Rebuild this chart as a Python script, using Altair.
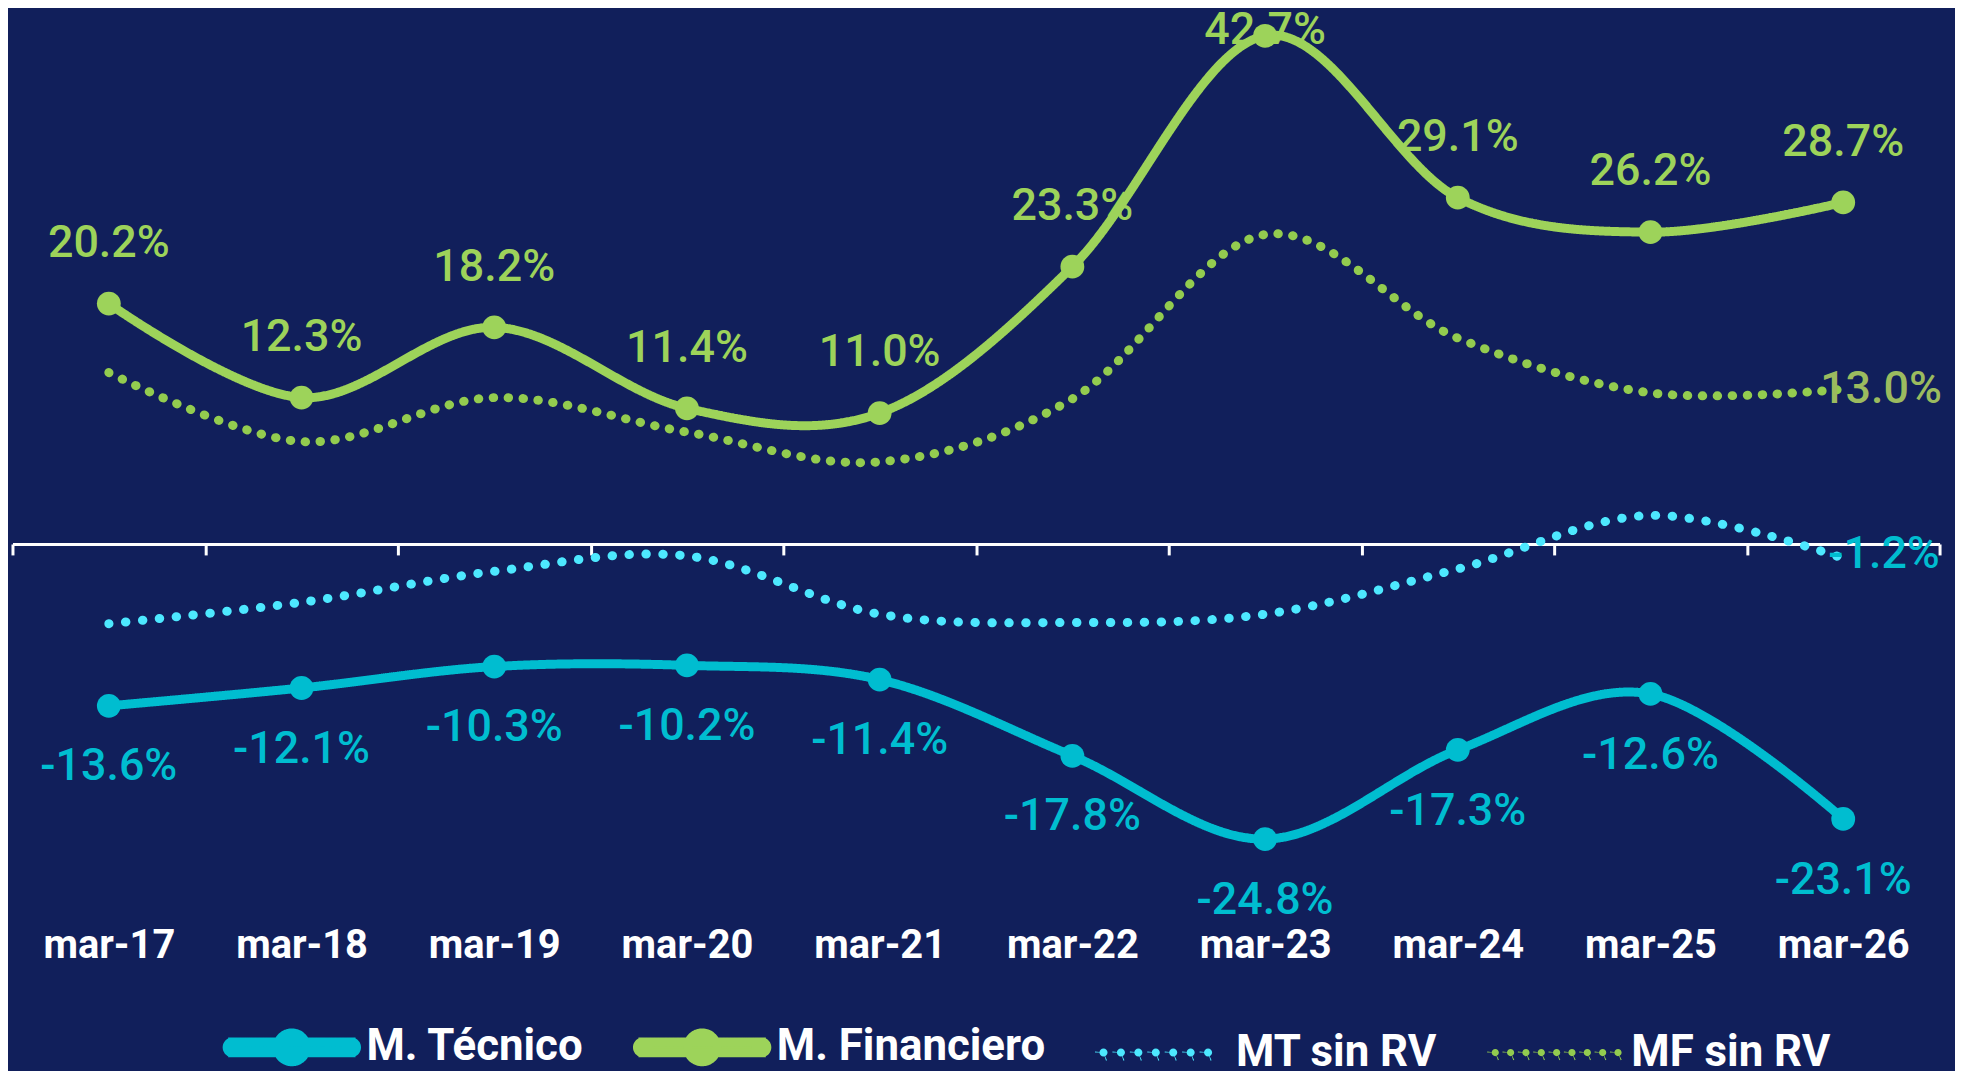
import altair as alt
import pandas as pd

cats = ["mar-17", "mar-18", "mar-19", "mar-20", "mar-21",
        "mar-22", "mar-23", "mar-24", "mar-25", "mar-26"]
m_tecnico = [-13.6, -12.1, -10.3, -10.2, -11.4, -17.8, -24.8, -17.3, -12.6, -23.1]
m_financiero = [20.2, 12.3, 18.2, 11.4, 11.0, 23.3, 42.7, 29.1, 26.2, 28.7]
mt_sin_rv = [-6.7, -4.9, -2.3, -1.0, -5.9, -6.6, -5.9, -2.1, 2.4, -1.2]
mf_sin_rv = [14.4, 8.6, 12.3, 9.4, 6.9, 12.2, 26.0, 17.3, 12.7, 13.0]

series_names = ["M. Técnico", "M. Financiero", "MT sin RV", "MF sin RV"]
series_values = [m_tecnico, m_financiero, mt_sin_rv, mf_sin_rv]

colors = ["#00BDD0", "#9DD35A", "#4DE8FF", "#93CC4F"]
BG = "#111F5B"

rows = []
for name, vals in zip(series_names, series_values):
    for c, v in zip(cats, vals):
        rows.append({"series": name, "cat": c, "value": v, "label": f"{v:.1f}%"})
df = pd.DataFrame(rows)


# legend symbol paths (unit = symbol radius)
def circ(cx, r):
    return (f"M{cx - r:.3f},0 A{r:.3f},{r:.3f} 0 1,1 {cx + r:.3f},0 "
            f"A{r:.3f},{r:.3f} 0 1,1 {cx - r:.3f},0 Z")


solid_path = ("M-4.1,-0.38 H4.1 V0.38 H-4.1 Z " + circ(-4.1, 0.38) + " "
              + circ(4.1, 0.38) + " " + circ(0, 1.0))
mt_dots = " ".join(circ(-4.0 + i * 1.207, 0.28) for i in range(7))
mf_dots = " ".join(circ(-4.25 + i * 1.0625, 0.25) for i in range(9))
shape_range = [solid_path, solid_path, mt_dots, mf_dots]

W = 1935
PXPCT = 11.95
YMIN, YMAX = -28, 44
H = (YMAX - YMIN) * PXPCT
zero_px = YMAX * PXPCT
axis_offset = -(H - zero_px)

x_enc = alt.X(
    "cat:N", sort=cats,
    scale=alt.Scale(type="band", paddingInner=0, paddingOuter=0),
    axis=alt.Axis(
        title=None, orient="bottom", offset=axis_offset,
        domainColor="white", domainWidth=3,
        tickColor="white", tickWidth=3, tickSize=11, tickBand="extent",
        labelPadding=372, labelFont="Roboto", labelFontSize=40,
        labelFontWeight="bold", labelColor="white", labelAngle=0,
        grid=False,
    ),
)
y_scale = alt.Scale(domain=[YMIN, YMAX], nice=False, zero=False)

base = alt.Chart(df)

lines = base.mark_line(interpolate="cardinal", strokeCap="round").encode(
    x=x_enc,
    y=alt.Y("value:Q", scale=y_scale, axis=None),
    stroke=alt.Stroke("series:N", scale=alt.Scale(domain=series_names, range=colors), legend=None),
    strokeDash=alt.StrokeDash("series:N", scale=alt.Scale(domain=series_names,
                              range=[[1, 0], [1, 0], [0.5, 16.5], [0.5, 14.5]]), legend=None),
    strokeWidth=alt.StrokeWidth("series:N", scale=alt.Scale(domain=series_names,
                                range=[9, 9, 7.5, 6.5]), legend=None),
    detail="series:N",
)

points = base.transform_filter(
    alt.FieldOneOfPredicate(field="series", oneOf=["M. Técnico", "M. Financiero"])
).mark_circle(size=573, opacity=1).encode(
    x=x_enc,
    y=alt.Y("value:Q", scale=y_scale, axis=None),
    color=alt.Color("series:N", scale=alt.Scale(domain=series_names, range=colors), legend=None),
)

legend_props = dict(
    title=None, orient="none", legendX=258.5, legendY=1009, direction="horizontal",
    columns=4, columnPadding=35, symbolSize=841, symbolStrokeWidth=0,
    symbolOffset=0, labelOffset=53, labelFont="Roboto", labelFontSize=44,
    labelFontWeight="bold", labelColor="white", labelLimit=0, symbolOpacity=1,
    padding=0, symbolType="circle",
)

legend_layer = base.mark_point(filled=True, opacity=0).encode(
    x=x_enc,
    y=alt.Y("value:Q", scale=y_scale, axis=None),
    fill=alt.Fill("series:N", scale=alt.Scale(domain=series_names, range=colors),
                  legend=alt.Legend(**legend_props)),
    shape=alt.Shape("series:N", scale=alt.Scale(domain=series_names, range=shape_range),
                    legend=alt.Legend(**legend_props)),
)

text_common = dict(font="Roboto", fontSize=45, fontWeight=500, baseline="middle", align="center")

mf_labels = base.transform_filter(alt.datum.series == "M. Financiero").transform_calculate(
    ly="min(datum.value + 5.1, 43.2)"
).mark_text(color=colors[1], **text_common).encode(
    x=x_enc, y=alt.Y("ly:Q", scale=y_scale, axis=None), text="label:N",
)

mt_labels = base.transform_filter(alt.datum.series == "M. Técnico").transform_calculate(
    ly="datum.value - 5.1"
).mark_text(color=colors[0], **text_common).encode(
    x=x_enc, y=alt.Y("ly:Q", scale=y_scale, axis=None), text="label:N",
)

mf_rv_label = base.transform_filter(
    (alt.datum.series == "MF sin RV") & (alt.datum.cat == cats[-1])
).mark_text(color="#9BBB5F", dx=38, **text_common).encode(
    x=x_enc, y=alt.Y("value:Q", scale=y_scale, axis=None), text="label:N",
)

mt_rv_label = base.transform_filter(
    (alt.datum.series == "MT sin RV") & (alt.datum.cat == cats[-1])
).mark_text(color=colors[0], dx=41, dy=-4, **text_common).encode(
    x=x_enc, y=alt.Y("value:Q", scale=y_scale, axis=None), text="label:N",
)

chart = alt.layer(
    legend_layer, lines, points, mf_labels, mt_labels, mf_rv_label, mt_rv_label
).properties(
    width=W, height=H,
    autosize=alt.AutoSizeParams(type="none"),
    padding={"left": 4.5, "top": 10.2, "right": 15.5, "bottom": 192},
    background=BG,
).configure_view(stroke=None).configure_axis(grid=False)

chart.save("out.html", embed_options={"renderer": "svg", "actions": False})
